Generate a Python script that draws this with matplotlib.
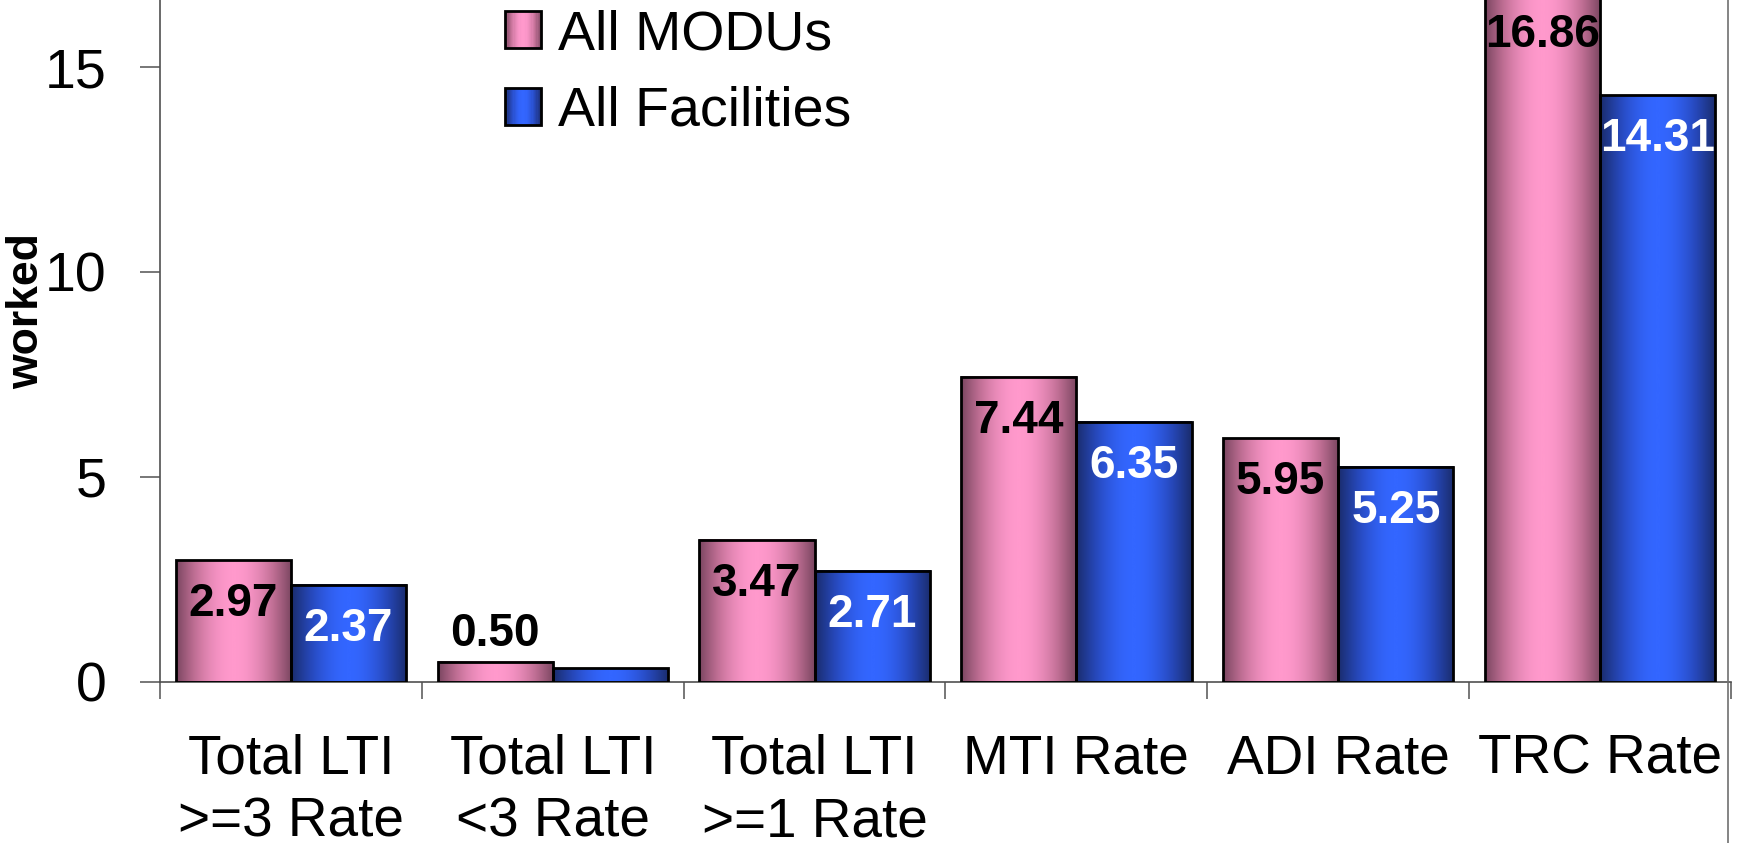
import numpy as np
import matplotlib
matplotlib.use("Agg")
import matplotlib.pyplot as plt
from matplotlib.colors import LinearSegmentedColormap
from matplotlib.patches import Rectangle
from matplotlib.legend_handler import HandlerBase
from matplotlib.lines import Line2D

plt.rcParams["font.family"] = ["Liberation Sans", "DejaVu Sans"]

categories = ["Total LTI\n>=3 Rate", "Total LTI\n<3 Rate", "Total LTI\n>=1 Rate",
              "MTI Rate", "ADI Rate", "TRC Rate"]
series_names = ["All MODUs", "All Facilities"]
modus = [2.97, 0.50, 3.47, 7.44, 5.95, 16.86]
facilities = [2.37, 0.34, 2.71, 6.35, 5.25, 14.31]

pink = LinearSegmentedColormap.from_list("pink", ["#7a4660", "#c27096", "#ff99cc"])
blue = LinearSegmentedColormap.from_list("blue", ["#1a2c6c", "#2647b8", "#3366ff"])
label_colors = ["black", "white"]

W, H = 1737, 843
fig = plt.figure(figsize=(W / 100, H / 100), dpi=100)
ax = fig.add_axes([160 / W, 1 - 682 / H, (1731 - 160) / W, 682 / H])

x = np.arange(len(categories))
width = 0.44
grad = np.sin(np.linspace(0, np.pi, 256))[None, :]


def gradient_bars(xpos, vals, cmap):
    bars = ax.bar(xpos, vals, width, facecolor="none", edgecolor="black",
                  linewidth=2, zorder=3)
    for r in bars:
        x0, y0 = r.get_x(), r.get_y()
        ax.imshow(grad, cmap=cmap, vmin=0, vmax=1, aspect="auto", zorder=2,
                  extent=[x0, x0 + r.get_width(), y0, y0 + r.get_height()])
    return bars


bars_m = gradient_bars(x - width / 2, modus, pink)
bars_f = gradient_bars(x + width / 2, facilities, blue)

# value labels: inside near the top, above the bar when too short
for bars, vals, col in [(bars_m, modus, label_colors[0]), (bars_f, facilities, label_colors[1])]:
    for r, v in zip(bars, vals):
        off = 27 if v < 1 else -44
        ax.annotate(f"{v:.2f}", (r.get_x() + r.get_width() / 2, v),
                    xytext=(0, off), textcoords="offset pixels",
                    ha="center", va="center", fontsize=33, fontweight="bold",
                    color=col, zorder=5, annotation_clip=False)

ax.set_xlim(-0.5, len(categories) - 0.5)
ax.set_ylim(0, 682 / 41)
ax.set_yticks([0, 5, 10, 15])
ax.set_xticks(x)
ax.set_xticklabels(categories, linespacing=1.27)
ax.set_xticks(np.arange(len(categories) + 1) - 0.5, minor=True)

ax.tick_params(axis="y", direction="out", length=14.4, width=1.2, color="#606060",
               labelsize=40, pad=24)
ax.tick_params(axis="x", which="major", length=0, labelsize=39.5, pad=37)
ax.tick_params(axis="x", which="minor", direction="out", length=12, width=1.2,
               color="#606060")

for s in ["top", "right"]:
    ax.spines[s].set_visible(False)
for s in ["left", "bottom"]:
    ax.spines[s].set_color("#505050")
    ax.spines[s].set_linewidth(1.2)

ax.set_ylabel("worked", fontsize=32, fontweight="bold")
ax.yaxis.set_label_coords((27 - 160) / (1731 - 160), (682 - 311) / 682)
ax.yaxis.label.set_va("center")


class GradientHandler(HandlerBase):
    def __init__(self, cmap):
        super().__init__()
        self.cmap = cmap

    def create_artists(self, legend, orig_handle, xdescent, ydescent,
                       width, height, fontsize, trans):
        n = 30
        arts = []
        for i in range(n):
            c = self.cmap(np.sin(np.pi * (i + 0.5) / n))
            arts.append(Rectangle((-xdescent + width * i / n, -ydescent), width / n * 1.05,
                                  height, facecolor=c, edgecolor="none", transform=trans))
        arts.append(Rectangle((-xdescent, -ydescent), width, height, facecolor="none",
                              edgecolor="black", linewidth=2, transform=trans))
        return arts


ax.legend([bars_m, bars_f], series_names,
          handler_map={bars_m: GradientHandler(pink), bars_f: GradientHandler(blue)},
          loc="upper left", bbox_to_anchor=(505 / W, 1 - 9 / H),
          bbox_transform=fig.transFigure, frameon=False, fontsize=40,
          handlelength=0.65, handleheight=0.65, handletextpad=0.3,
          labelspacing=0.45, borderpad=0, borderaxespad=0)

fig.add_artist(Line2D([1728 / W, 1728 / W], [0, 1], transform=fig.transFigure,
                      color="#707070", linewidth=1.2))

fig.savefig("out.png", dpi=100)
